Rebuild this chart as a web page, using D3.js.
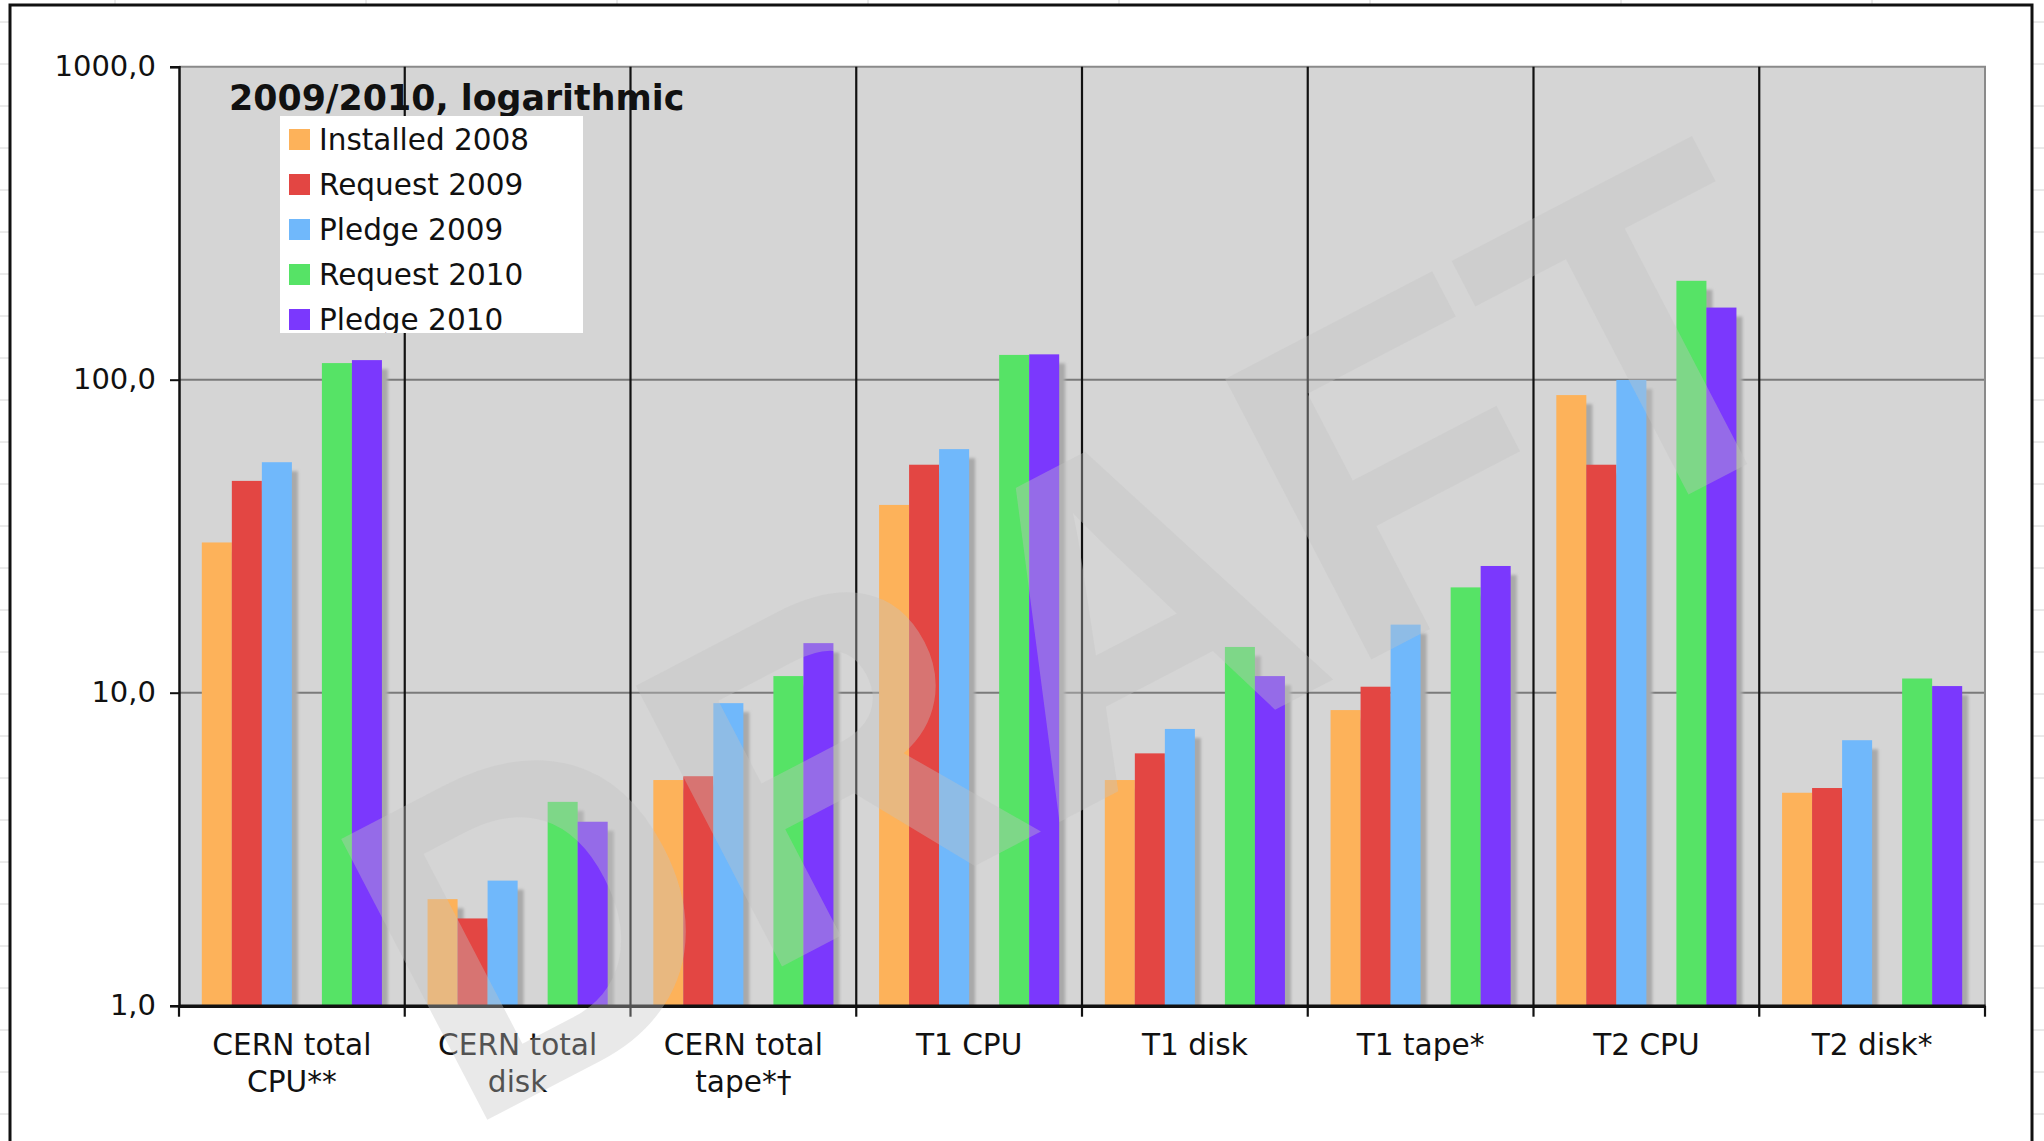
<!DOCTYPE html>
<html><head><meta charset="utf-8">
<script src="https://cdn.jsdelivr.net/npm/d3@7"></script>
<style>html,body{margin:0;padding:0;background:#fff;overflow:hidden}</style>
</head><body><svg id="c" width="2044" height="1141"></svg>
<script>
// ---------------- data ----------------
const categories = ["CERN total\nCPU**", "CERN total\ndisk", "CERN total\ntape*\u2020", "T1 CPU", "T1 disk", "T1 tape*", "T2 CPU", "T2 disk*"];
const seriesNames = ["Installed 2008", "Request 2009", "Pledge 2009", "Request 2010", "Pledge 2010"];
const installed2008 = [30.2, 2.19, 5.26, 39.8, 5.26, 8.8, 89.3, 4.79];
const request2009   = [47.5, 1.90, 5.41, 53.5, 6.4, 10.45, 53.5, 4.96];
const pledge2009    = [54.5, 2.51, 9.26, 60.0, 7.66, 16.5, 99.8, 7.05];
const request2010   = [113, 4.48, 11.3, 120, 14.0, 21.7, 207, 11.1];
const pledge2010    = [115.5, 3.87, 14.4, 120.5, 11.3, 25.4, 170, 10.5];
const seriesValues = [installed2008, request2009, pledge2009, request2010, pledge2010];
const seriesColors = ["#fdb25a", "#e34643", "#70b8fb", "#56e366", "#7b38fd"];
// bar slots within a category (the chart leaves one empty slot)
const slots = ["Installed 2008", "Request 2009", "Pledge 2009", "", "Request 2010", "Pledge 2010"];
const yTicks = [1, 10, 100, 1000];
const yTickLabels = ["1,0", "10,0", "100,0", "1000,0"];
const titleText = "2009/2010, logarithmic";
const watermarkText = "DRAFT";

// ---------------- layout ----------------
const W = 2044, H = 1141;
const L = 179, R = 1985, T = 66.7, B = 1005.7;
const svg = d3.select("#c");
const FONT = "'DejaVu Sans', Verdana, sans-serif";

// spreadsheet background grid
const bg = svg.append("g");
d3.range(115, W, 251).forEach(x => bg.append("line").attr("x1", x).attr("x2", x).attr("y1", 0).attr("y2", H).attr("stroke", "#d6d6d6").attr("stroke-width", 1));
d3.range(22, H, 42).forEach(y => bg.append("line").attr("x1", 0).attr("x2", W).attr("y1", y).attr("y2", y).attr("stroke", "#d6d6d6").attr("stroke-width", 1));

// chart frame
svg.append("rect").attr("x", 10).attr("y", 5).attr("width", 2022).attr("height", 1300)
  .attr("fill", "#fff").attr("stroke", "#111").attr("stroke-width", 3);

const y = d3.scaleLog().domain([1, 1000]).range([B, T]);
const x0 = d3.scaleBand().domain(categories).range([L, R]).padding(0);
const x1 = d3.scaleBand().domain(slots).range([0, x0.bandwidth()]).paddingInner(0).paddingOuter(0.76);

// plot background
svg.append("rect").attr("x", L).attr("y", T).attr("width", R - L).attr("height", B - T).attr("fill", "#d5d5d5");

// horizontal gridlines
svg.append("g").selectAll("line").data(yTicks.slice(1, -1)).join("line")
  .attr("x1", L).attr("x2", R).attr("y1", d => y(d)).attr("y2", d => y(d))
  .attr("stroke", "#7a7a7a").attr("stroke-width", 2);
// top & right border (gray)
svg.append("path").attr("d", `M${L},${T}H${R}V${B}`).attr("fill", "none").attr("stroke", "#8a8a8a").attr("stroke-width", 2);

// category dividers
svg.append("g").selectAll("line").data(categories.slice(1)).join("line")
  .attr("x1", d => x0(d)).attr("x2", d => x0(d)).attr("y1", T).attr("y2", B)
  .attr("stroke", "#111").attr("stroke-width", 2.2);

// title
svg.append("text").attr("x", 229).attr("y", 110).attr("font-family", FONT).attr("font-weight", "bold")
  .attr("font-size", 34.8).attr("fill", "#111").text(titleText);

// bars with drop shadow
const defs = svg.append("defs");
defs.append("filter").attr("id", "blur").attr("x", "-50%").attr("y", "-10%").attr("width", "200%").attr("height", "120%")
  .append("feGaussianBlur").attr("stdDeviation", 1.6);
defs.append("clipPath").attr("id", "plotclip").append("rect").attr("x", L).attr("y", T).attr("width", R - L).attr("height", B - T);

const barData = [];
seriesNames.forEach((s, si) => categories.forEach((c, ci) => barData.push({ s, si, c, v: seriesValues[si][ci] })));

const gShadow = svg.append("g").attr("clip-path", "url(#plotclip)");
gShadow.selectAll("rect").data(barData).join("rect")
  .attr("x", d => x0(d.c) + x1(d.s) + 6).attr("y", d => y(d.v) + 9)
  .attr("width", x1.bandwidth()).attr("height", d => B - y(d.v))
  .attr("fill", "#a9a9a9").attr("filter", "url(#blur)");

svg.append("g").selectAll("rect").data(barData).join("rect")
  .attr("x", d => x0(d.c) + x1(d.s)).attr("y", d => y(d.v))
  .attr("width", x1.bandwidth()).attr("height", d => B - y(d.v))
  .attr("fill", d => seriesColors[d.si]);

// y axis
const yAxis = svg.append("g").attr("transform", `translate(${L},0)`)
  .call(d3.axisLeft(y).tickValues(yTicks).tickSize(9).tickPadding(14).tickFormat((d, i) => yTickLabels[i]));
yAxis.select(".domain").attr("stroke", "#111").attr("stroke-width", 2.5);
yAxis.selectAll(".tick line").attr("stroke", "#111").attr("stroke-width", 2);
yAxis.selectAll("text").attr("font-family", FONT).attr("font-size", 29).attr("fill", "#111");

// x axis
const xAxis = svg.append("g").attr("transform", `translate(0,${B})`)
  .call(d3.axisBottom(x0).tickSize(0).tickPadding(0).tickFormat(""));
xAxis.select(".domain").attr("stroke", "#111").attr("stroke-width", 3.5);
xAxis.selectAll(".tick").each(function (d) {
  const t = d3.select(this).append("text").attr("fill", "#111").attr("font-family", FONT)
    .attr("font-size", 29.6).attr("text-anchor", "middle");
  d.split("\n").forEach((line, i) => t.append("tspan").attr("x", 0).attr("y", 49 + i * 37).text(line));
});
// boundary ticks
svg.append("g").selectAll("line").data(categories.concat(["__end"])).join("line")
  .attr("x1", (d, i) => i < categories.length ? x0(d) : R).attr("x2", (d, i) => i < categories.length ? x0(d) : R)
  .attr("y1", B).attr("y2", B + 11).attr("stroke", "#111").attr("stroke-width", 2.2);

// legend
const lg = svg.append("g");
defs.append("clipPath").attr("id", "legclip").append("rect").attr("x", 280).attr("y", 116).attr("width", 303).attr("height", 217);
lg.append("rect").attr("x", 280).attr("y", 116).attr("width", 303).attr("height", 217).attr("fill", "#fff");
const items = lg.append("g").attr("clip-path", "url(#legclip)").selectAll("g").data(seriesNames).join("g")
  .attr("transform", (d, i) => `translate(0,${139.5 + i * 45})`);
items.append("rect").attr("x", 289).attr("y", -10.5).attr("width", 21).attr("height", 21).attr("fill", (d, i) => seriesColors[i]);
items.append("text").attr("x", 319).attr("y", 10.5).attr("font-family", FONT).attr("font-size", 29.5).attr("fill", "#111").text(d => d);

// watermark
svg.append("text").attr("transform", "translate(460,1134) rotate(-27.5)")
  .attr("font-family", "'Liberation Sans', Arial, sans-serif").attr("font-weight", "bold").attr("font-size", 460)
  .attr("fill", "rgb(196,196,196)").attr("fill-opacity", 0.37).text(watermarkText);
</script>
</body></html>
